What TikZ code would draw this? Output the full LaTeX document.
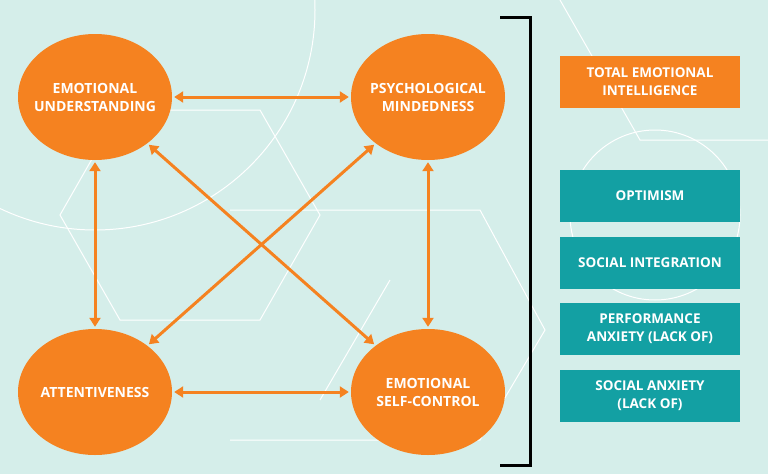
\documentclass[tikz,border=0pt]{standalone}
\usepackage{fontspec}
\setmainfont{Open Sans}
\usetikzlibrary{arrows.meta,shapes.geometric}
\definecolor{bg}{HTML}{D5EEEA}
\definecolor{org}{HTML}{F58220}
\definecolor{teal}{HTML}{13A0A3}
\begin{document}
\begin{tikzpicture}[x=1pt,y=-1pt,
  ell/.style={ellipse,fill=org,minimum width=154pt,minimum height=126pt,inner xsep=-14pt,inner ysep=0pt,text=white,align=center,font=\bfseries\fontsize{14}{18}\selectfont},
  box/.style={fill=#1,minimum width=180pt,minimum height=52pt,inner sep=0pt,text=white,align=center,font=\bfseries\fontsize{13.5}{18}\selectfont},
  arr/.style={org,line width=3pt,{Triangle[length=9pt,width=11pt]}-{Triangle[length=9pt,width=11pt]},shorten <=2pt,shorten >=2pt},
  bgl/.style={white,line width=1pt}]
\fill[bg] (0,0) rectangle (768,474);
\useasboundingbox (0,0) rectangle (768,474);
\begin{scope}
\clip (0,0) rectangle (768,474);
\draw[bgl] (95,10) circle (220);
\draw[bgl] (655,215) circle (85);
\draw[bgl] (60,215) -- (120,110) -- (260,110) -- (320,215) -- (260,320) -- (120,320) -- cycle;
\draw[bgl] (230,210) -- (480,210) -- (545,330) -- (480,440) -- (230,440);
\draw[bgl] (320,400) -- (390,280);
\draw[bgl] (560,0) -- (640,140) -- (768,140);
\end{scope}
\node[ell] (eu) at (95,97) {EMOTIONAL\\UNDERSTANDING};
\node[ell] (pm) at (428,97) {PSYCHOLOGICAL\\MINDEDNESS};
\node[ell] (at) at (95,392) {ATTENTIVENESS};
\node[ell] (sc) at (428,392) {EMOTIONAL\\SELF-CONTROL};
\draw[arr] (eu) -- (pm);
\draw[arr] (at) -- (sc);
\draw[arr] (eu) -- (at);
\draw[arr] (pm) -- (sc);
\draw[arr] (eu) -- (sc);
\draw[arr] (pm) -- (at);
\coordinate (b1) at (500,17);
\coordinate (b4) at (500,465);
\draw[black,line width=3pt] (b1) -- (530,17) -- (530,465) -- (b4);
\node[box=org] (t) at (650,82) {TOTAL EMOTIONAL\\INTELLIGENCE};
\node[box=teal] (o) at (650,196) {OPTIMISM};
\node[box=teal] (si) at (650,263) {SOCIAL INTEGRATION};
\node[box=teal] (pa) at (650,329) {PERFORMANCE\\ANXIETY (LACK OF)};
\node[box=teal] (sa) at (650,396) {SOCIAL ANXIETY\\(LACK OF)};
\end{tikzpicture}
\end{document}
